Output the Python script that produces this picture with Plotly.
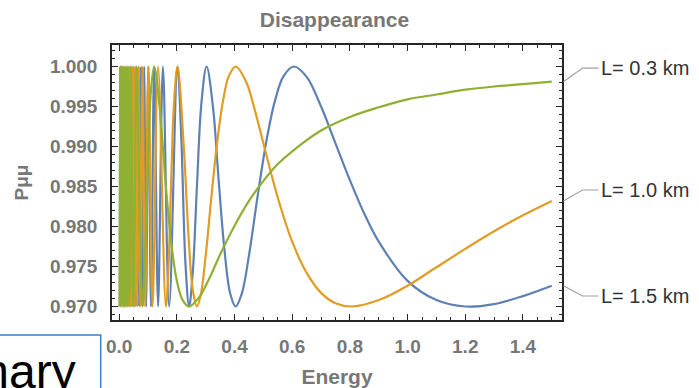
import plotly.graph_objects as go

# ---- data (Energy, P_mumu) ----
blue_E = [0.002, 0.004, 0.006, 0.008, 0.010, 0.012, 0.014, 0.016, 0.018, 0.020,
          0.022, 0.024, 0.026, 0.028, 0.030, 0.032, 0.034, 0.036, 0.038,
          0.0404, 0.0418, 0.0433, 0.0449, 0.0466, 0.0485, 0.0505, 0.0527, 0.0551, 0.0578,
          0.0606, 0.0638, 0.0674, 0.0713, 0.0758, 0.0809, 0.0866, 0.0933, 0.1011, 0.1103,
          0.1213, 0.1348, 0.1516, 0.1733, 0.202, 0.215, 0.23, 0.2425, 0.255, 0.27, 0.285,
          0.303, 0.325, 0.345, 0.365, 0.385, 0.404, 0.425, 0.45, 0.48, 0.51, 0.54, 0.57,
          0.606, 0.65, 0.7, 0.75, 0.8, 0.85, 0.9, 1.0, 1.1, 1.2, 1.3, 1.4, 1.5]
blue_P = [0.97, 1.0, 0.97, 1.0, 0.97, 1.0, 0.97, 1.0, 0.97, 1.0,
          0.97, 1.0, 0.97, 1.0, 0.97, 1.0, 0.97, 1.0, 0.97,
          1.0, 0.97, 1.0, 0.97, 1.0, 0.97, 1.0, 0.97, 1.0, 0.97,
          1.0, 0.97, 1.0, 0.97, 1.0, 0.97, 1.0, 0.97, 1.0, 0.97,
          1.0, 0.97, 1.0, 0.97, 1.0, 0.9914, 0.9752, 0.97, 0.9742, 0.9854, 0.9954,
          1.0, 0.9950, 0.9857, 0.9771, 0.9716, 0.97, 0.9716, 0.9764, 0.9838, 0.9906, 0.9957, 0.9988,
          1.0, 0.9987, 0.9950, 0.9904, 0.9858, 0.9816, 0.9781, 0.9732, 0.9708, 0.9700, 0.9703, 0.9713, 0.9726]

orange_E = [0.002, 0.004, 0.006, 0.008, 0.010, 0.012, 0.014, 0.016, 0.018, 0.020,
            0.022, 0.024, 0.026, 0.028, 0.030, 0.032, 0.034, 0.036, 0.038,
            0.0404, 0.0426, 0.0449, 0.0476, 0.0505, 0.0539, 0.0578, 0.0622, 0.0674, 0.0735,
            0.0809, 0.0898, 0.1011, 0.1155, 0.1348, 0.1617, 0.17, 0.18, 0.19, 0.2021,
            0.225, 0.24, 0.255, 0.2695, 0.283, 0.30, 0.32, 0.34, 0.36, 0.38, 0.404,
            0.44, 0.47, 0.5, 0.55, 0.6, 0.65, 0.7, 0.75, 0.8085, 0.9, 1.0, 1.1, 1.2, 1.3, 1.4, 1.5]
orange_P = [0.97, 1.0, 0.97, 1.0, 0.97, 1.0, 0.97, 1.0, 0.97, 1.0,
            0.97, 1.0, 0.97, 1.0, 0.97, 1.0, 0.97, 1.0, 0.97,
            1.0, 0.97, 1.0, 0.97, 1.0, 0.97, 1.0, 0.97, 1.0, 0.97,
            1.0, 0.97, 1.0, 0.97, 1.0, 0.97, 0.9742, 0.9854, 0.9954, 1.0,
            0.9893, 0.9790, 0.9721, 0.97, 0.9715, 0.9764, 0.9838, 0.9906, 0.9957, 0.9988, 1.0,
            0.9981, 0.9946, 0.9904, 0.9836, 0.9781, 0.9742, 0.9717, 0.9704, 0.97, 0.9708, 0.9726,
            0.9749, 0.9772, 0.9794, 0.9814, 0.9832]

green_E = [0.002, 0.0035, 0.005, 0.0065, 0.008, 0.0095, 0.011, 0.0125, 0.014,
           0.0152, 0.0162, 0.0173, 0.0187, 0.0202, 0.0221, 0.0243, 0.0270, 0.0303, 0.0347,
           0.0404, 0.0485, 0.0606, 0.072, 0.0808, 0.09, 0.1, 0.11, 0.1213, 0.14, 0.16,
           0.18, 0.2, 0.22, 0.2425, 0.28, 0.3, 0.32, 0.35, 0.4, 0.45, 0.5, 0.55, 0.6,
           0.7, 0.8, 0.9, 1.0, 1.1, 1.2, 1.3, 1.4, 1.5]
green_P = [0.97, 1.0, 0.97, 1.0, 0.97, 1.0, 0.97, 1.0, 0.97,
           1.0, 0.97, 1.0, 0.97, 1.0, 0.97, 1.0, 0.97, 1.0, 0.97,
           1.0, 0.97, 1.0, 0.9790, 0.97, 0.9764, 0.9885, 0.9970, 1.0, 0.9950, 0.9858,
           0.9781, 0.9732, 0.9708, 0.97, 0.9713, 0.9726, 0.9741, 0.9765, 0.9801, 0.9832,
           0.9857, 0.9878, 0.9894, 0.9920, 0.9937, 0.9949, 0.9959, 0.9965, 0.9971, 0.9975,
           0.9978, 0.9981]

series_labels = ["L= 1.5 km", "L= 1.0 km", "L= 0.3 km"]
label_y = [0.97131, 0.98456, 0.99981]   # vertical position of the callout labels
colors = ["#5E81B5", "#E19C24", "#8FB032"]

x_ticks = [0.0, 0.2, 0.4, 0.6, 0.8, 1.0, 1.2, 1.4]
y_ticks = [0.970, 0.975, 0.980, 0.985, 0.990, 0.995, 1.000]

fig = go.Figure()
for E, P, c, name in zip([blue_E, orange_E, green_E], [blue_P, orange_P, green_P], colors, series_labels):
    fig.add_trace(go.Scatter(x=E, y=P, mode="lines", name=name,
                             line=dict(color=c, width=2.2, shape="spline", smoothing=1.0),
                             hoverinfo="skip"))

GRAY = "#777777"
tickfont = dict(family="Liberation Sans, Arial", size=19, color=GRAY, weight="bold")
axis_common = dict(showline=True, linecolor="#262626", linewidth=1.5, mirror="ticks",
                   ticks="inside", ticklen=6, tickwidth=1.2, tickcolor="#262626",
                   showgrid=False, zeroline=False, tickfont=tickfont, automargin=False)

fig.update_xaxes(range=[-0.025, 1.5355], tickvals=x_ticks, tickformat=".1f",
                 minor=dict(ticks="inside", dtick=0.05, tick0=0, ticklen=3.5, tickwidth=1, tickcolor="#262626"),
                 ticklabelstandoff=8,
                 title=dict(text="Energy", standoff=18,
                            font=dict(family="Liberation Sans, Arial", size=21, color=GRAY, weight="bold")),
                 **axis_common)
fig.update_yaxes(range=[0.96831, 1.00269], tickvals=y_ticks, tickformat=".3f",
                 minor=dict(ticks="inside", dtick=0.001, tick0=0.97, ticklen=3.5, tickwidth=1, tickcolor="#262626"),
                 ticklabelstandoff=9,
                 title=dict(text="Pμμ", standoff=16,
                            font=dict(family="Liberation Sans, Arial", size=19, color=GRAY, weight="bold")),
                 **axis_common)

# callout leader lines and labels
shapes = []
annotations = []
ends = [blue_P[-1], orange_P[-1], green_P[-1]]
for yend, ly, name in zip(ends, label_y, series_labels):
    shapes.append(dict(type="path", xref="paper", yref="y",
                       path=f"M 1.0033,{yend} L 1.0455,{ly} L 1.0810,{ly}",
                       line=dict(color="#a0a0a0", width=1.2)))
    annotations.append(dict(text=name, xref="paper", yref="y", x=1.0825, y=ly,
                            xanchor="left", yanchor="middle", showarrow=False,
                            font=dict(family="Liberation Sans, Arial", size=20, color="#333333")))

# slide fragment bottom-left: blue text box with "mary" (cut at the left page edge)
shapes.append(dict(type="rect", xref="paper", yref="paper", x0=-0.26, x1=-0.0251, y0=-0.30, y1=-0.0545,
                   line=dict(color="#3A7DC9", width=1.5), fillcolor="rgba(0,0,0,0)"))
annotations.append(dict(text="mary", xref="paper", yref="paper", x=-0.0762, y=-0.1855,
                        xanchor="right", yanchor="middle", showarrow=False,
                        font=dict(family="Liberation Sans Narrow, Liberation Sans", size=48, color="#000000")))

fig.update_layout(
    width=699, height=388,
    margin=dict(l=112, r=137, t=45, b=68),
    plot_bgcolor="white", paper_bgcolor="white",
    showlegend=False,
    title=dict(text="Disappearance", x=0.4785, xref="container", xanchor="center",
               y=0.9497, yref="container", yanchor="middle",
               font=dict(family="Liberation Sans, Arial", size=21, color=GRAY, weight="bold")),
    shapes=shapes, annotations=annotations,
)

fig.write_html("out.html")
